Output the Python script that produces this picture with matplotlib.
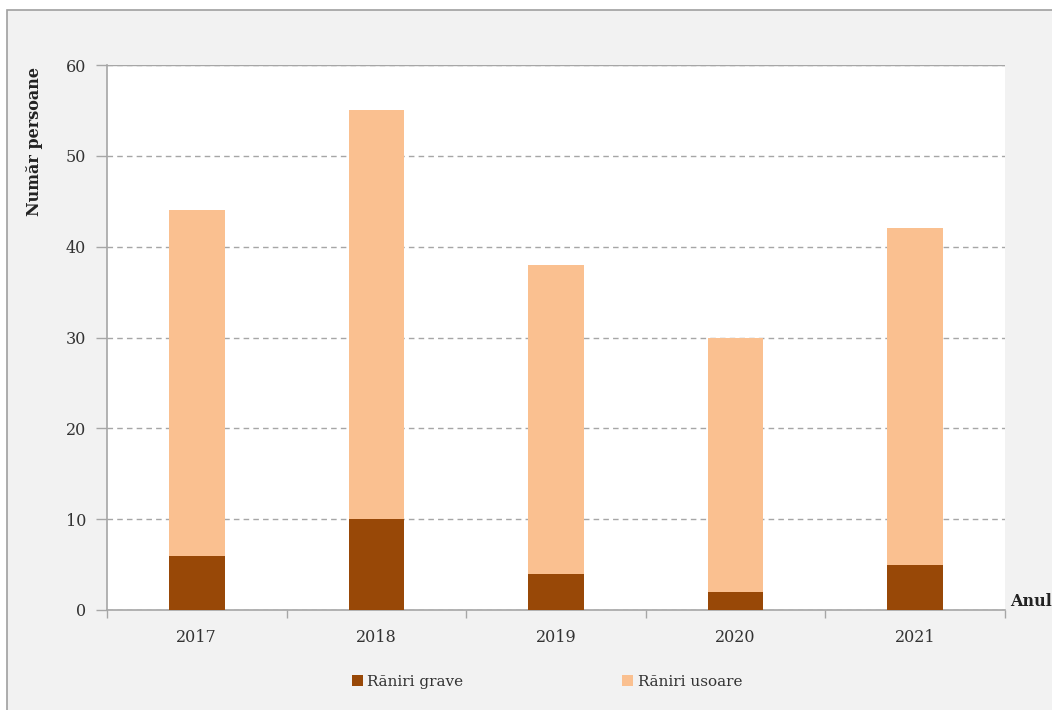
import matplotlib
matplotlib.use("Agg")
import matplotlib.pyplot as plt
from matplotlib.patches import Rectangle, Patch
import numpy as np

years = ["2017", "2018", "2019", "2020", "2021"]
raniri_grave = [6, 10, 4, 2, 5]
raniri_usoare = [38, 45, 34, 28, 37]
legend_labels = ["Răniri grave", "Răniri usoare"]
y_label = "Număr persoane"
x_label = "Anul"

col_grave = "#984807"
col_usoare = "#FAC090"
grid_col = "#A6A6A6"

plt.rcParams["font.family"] = ["DejaVu Serif"]

fig = plt.figure(figsize=(10.52, 7.10), dpi=100, facecolor="white")

# grey panel behind the chart
panel = Rectangle((7 / 1052, -0.01), 1.1, (710 - 10) / 710 + 0.01,
                  transform=fig.transFigure, facecolor="#F2F2F2",
                  edgecolor="#A0A0A0", linewidth=1.2, zorder=-10)
fig.patches.append(panel)

ax = fig.add_axes([107 / 1052, 100 / 710, 898 / 1052, 545 / 710])
ax.set_facecolor("white")
ax.set_zorder(1)

x = np.arange(len(years))
width = 0.31
ax.bar(x, raniri_grave, width, color=col_grave, zorder=3)
ax.bar(x, raniri_usoare, width, bottom=raniri_grave, color=col_usoare, zorder=3)

ax.set_xlim(-0.5, len(years) - 0.5)
ax.set_ylim(0, 60)
ax.set_yticks(range(0, 61, 10))
ax.yaxis.grid(True, color=grid_col, linestyle=(0, (4, 3)), linewidth=1.0, zorder=1)
ax.set_axisbelow(True)

ax.set_xticks(x)
ax.set_xticklabels(years)
ax.set_xticks(np.arange(-0.5, len(years), 1.0), minor=True)
ax.tick_params(axis="x", which="major", length=0, pad=14, labelsize=11.5, colors="#333333")
ax.tick_params(axis="x", which="minor", length=6, color=grid_col, width=1)
ax.tick_params(axis="y", length=8, color=grid_col, width=1, pad=7, labelsize=11.5, colors="#333333")

for s in ["top", "right"]:
    ax.spines[s].set_visible(False)
for s in ["left", "bottom"]:
    ax.spines[s].set_color(grid_col)
    ax.spines[s].set_linewidth(1.2)
ax.axhline(60, color=grid_col, linewidth=1.0, zorder=2)

fig.text(35 / 1052, 1 - 142 / 710, y_label, rotation=90, ha="center", va="center",
         fontsize=11.5, fontweight="bold", color="#222222")
fig.text(1010 / 1052, 1 - 601 / 710, x_label, ha="left", va="center",
         fontsize=11.5, fontweight="bold", color="#222222")

handles = [Patch(facecolor=col_grave, edgecolor="none"),
           Patch(facecolor=col_usoare, edgecolor="none")]
fig.legend(handles, legend_labels, loc="center", bbox_to_anchor=(547 / 1052, 28 / 710),
           ncol=2, frameon=False, fontsize=11, handlelength=0.7, handleheight=0.7,
           handletextpad=0.3, columnspacing=10.4, labelcolor="#333333")

fig.savefig("out.png", dpi=100, facecolor="white")
